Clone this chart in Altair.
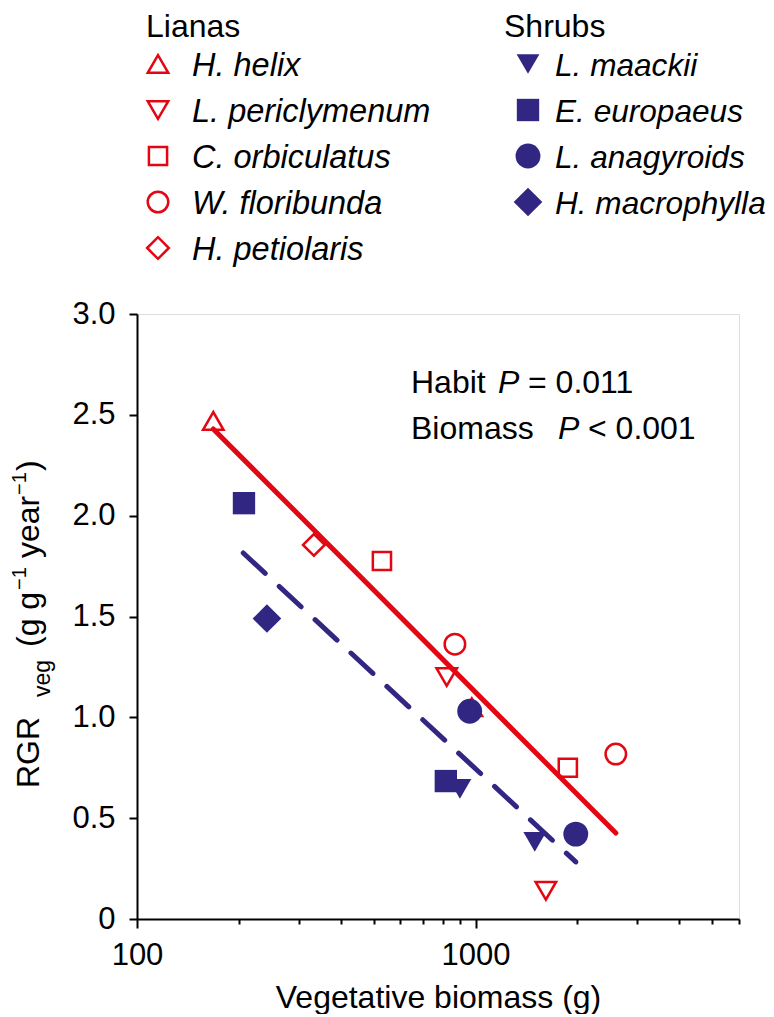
import altair as alt
import pandas as pd

# ---------------- data ----------------
liana_species = ["H. helix", "L. periclymenum", "C. orbiculatus", "W. floribunda", "H. petiolaris"]
shrub_species = ["L. maackii", "E. europaeus", "L. anagyroids", "H. macrophylla"]

liana_pt_species = ["H. helix", "H. helix", "L. periclymenum", "L. periclymenum",
                    "C. orbiculatus", "C. orbiculatus", "W. floribunda", "W. floribunda",
                    "H. petiolaris"]
liana_biomass = [168, 975, 822, 1613, 529, 1873, 869, 2596, 333]
liana_rgr = [2.47, 1.05, 1.20, 0.14, 1.775, 0.75, 1.363, 0.818, 1.855]

shrub_pt_species = ["L. maackii", "L. maackii", "E. europaeus", "E. europaeus",
                    "L. anagyroids", "L. anagyroids", "H. macrophylla"]
shrub_biomass = [899, 1496, 207, 817, 961, 1977, 242]
shrub_rgr = [0.645, 0.382, 2.062, 0.684, 1.03, 0.421, 1.49]

liana_fit_biomass = [168, 2596]
liana_fit_rgr = [2.43, 0.426]
shrub_fit_biomass = [206, 1977]
shrub_fit_rgr = [1.815, 0.283]

x_tick_values = [100, 200, 300, 400, 500, 600, 700, 800, 900,
                 1000, 2000, 3000, 4000, 5000, 6000]
y_tick_values = [0, 0.5, 1.0, 1.5, 2.0, 2.5, 3.0]

# ---------------- styling ----------------
RED = "#e30613"
BLUE = "#312783"
FONT = "Liberation Sans"

shape_of = {"H. helix": "triangle-up", "L. periclymenum": "triangle-down",
            "C. orbiculatus": "square", "W. floribunda": "circle", "H. petiolaris": "diamond",
            "L. maackii": "triangle-down", "E. europaeus": "square",
            "L. anagyroids": "circle", "H. macrophylla": "diamond"}
size_of = {"H. helix": 420, "L. periclymenum": 420, "C. orbiculatus": 330,
           "W. floribunda": 420, "H. petiolaris": 470,
           "L. maackii": 520, "E. europaeus": 500, "L. anagyroids": 620, "H. macrophylla": 820}

lianas = pd.DataFrame({"species": liana_pt_species, "biomass": liana_biomass, "rgr": liana_rgr})
shrubs = pd.DataFrame({"species": shrub_pt_species, "biomass": shrub_biomass, "rgr": shrub_rgr})
fit_l = pd.DataFrame({"biomass": liana_fit_biomass, "rgr": liana_fit_rgr})
fit_s = pd.DataFrame({"biomass": shrub_fit_biomass, "rgr": shrub_fit_rgr})

xscale = alt.Scale(type="log", domain=[100, 6000], nice=False)
yscale = alt.Scale(domain=[0, 3], nice=False, zero=True)

x_enc = alt.X(
    "biomass:Q", scale=xscale,
    axis=alt.Axis(
        values=x_tick_values,
        labelExpr="(datum.value == 100 || datum.value == 1000) ? format(datum.value, 'd') : ''",
        labelOverlap=False, labelFlush=False,
        title="Vegetative biomass (g)",
        grid=False, domainColor="black", domainWidth=2,
        tickColor="black", tickWidth=2,
        tickSize={"condition": {"test": "datum.value == 100 || datum.value == 1000", "value": 9}, "value": 5},
        labelFont=FONT, labelFontSize=31, labelColor="black", labelPadding=12,
        titleFont=FONT, titleFontSize=32, titleFontWeight="normal", titleColor="black",
        titlePadding=12,
    ),
)
y_enc = alt.Y(
    "rgr:Q", scale=yscale,
    axis=alt.Axis(
        values=y_tick_values,
        labelExpr="datum.value == 0 ? '0' : format(datum.value, '.1f')",
        title=None, grid=False, domainColor="black", domainWidth=2,
        tickColor="black", tickWidth=2, tickSize=8,
        labelFont=FONT, labelFontSize=31, labelColor="black", labelPadding=14,
        labelOverlap=False, labelFlush=False,
    ),
)

layers = []
# open liana symbols (drawn first)
for sp in liana_species:
    layers.append(
        alt.Chart(lianas).transform_filter(alt.datum.species == sp)
        .mark_point(shape=shape_of[sp], size=size_of[sp], filled=False, color=RED,
                    strokeWidth=2.5, opacity=1)
        .encode(x=x_enc, y=y_enc)
    )
# filled shrub symbols
for sp in shrub_species:
    layers.append(
        alt.Chart(shrubs).transform_filter(alt.datum.species == sp)
        .mark_point(shape=shape_of[sp], size=size_of[sp], filled=True, color=BLUE, opacity=1)
        .encode(x=x_enc, y=y_enc)
    )
# regression lines
layers.append(alt.Chart(fit_l).mark_line(color=RED, strokeWidth=5, strokeCap="round")
              .encode(x=x_enc, y=y_enc))
layers.append(alt.Chart(fit_s).mark_line(color=BLUE, strokeWidth=5, strokeCap="round",
                                         strokeDash=[30, 19]).encode(x=x_enc, y=y_enc))

one = alt.Data(values=[{"a": 1}])


def txt(s, x, y, size=33, italic=False, angle=0, baseline="alphabetic"):
    return alt.Chart(one).mark_text(
        text=s, font=FONT, fontSize=size, fontStyle="italic" if italic else "normal",
        align="left", baseline=baseline, angle=angle, color="black",
    ).encode(x=alt.value(x), y=alt.value(y))


def sym(shape, size, x, y, filled, color):
    kw = dict(shape=shape, size=size, filled=filled, color=color, opacity=1)
    if not filled:
        kw["strokeWidth"] = 2.5
    return alt.Chart(one).mark_point(**kw).encode(x=alt.value(x), y=alt.value(y))


# plot origin is at page (137, 314); all positions below are relative to it
sym_rows = [-250, -204, -158, -112, -66]
txt_rows = [-238.5, -192.5, -146.5, -100.5, -54.5]
layers.append(txt("Lianas", 9, -277, size=32))
for i, sp in enumerate(liana_species):
    layers.append(sym(shape_of[sp], size_of[sp], 21, sym_rows[i], False, RED))
    layers.append(txt(sp, 55, txt_rows[i], size=32.5, italic=True))
layers.append(txt("Shrubs", 367, -277, size=32))
for i, sp in enumerate(shrub_species):
    layers.append(sym(shape_of[sp], size_of[sp], 391, sym_rows[i], True, BLUE))
    layers.append(txt(sp, 418, txt_rows[i], size=31.6, italic=True))

# statistics annotation
layers += [
    txt("Habit", 274, 79, size=32),
    txt("P", 361, 79, size=32, italic=True),
    txt("= 0.011", 391, 79, size=32),
    txt("Biomass", 274, 125, size=32),
    txt("P", 421, 125, size=32, italic=True),
    txt("< 0.001", 451, 125, size=32),
]

# rotated y-axis title with subscript / superscripts (start = lower end, page y)
bx, sbx, spx = -98, -87, -111
title_pieces = [("RGR", 32, bx, 788), ("veg", 23, sbx, 697), ("(g g", 32, bx, 647),
                ("\u22121", 20, spx, 590), ("year", 32, bx, 558), ("\u22121", 20, spx, 495),
                (")", 32, bx, 471)]
for s, fs, xb, ystart in title_pieces:
    layers.append(txt(s, xb, ystart - 314, size=fs, angle=270))

chart = alt.layer(*layers).properties(
    width=602, height=605,
    padding={"left": 129, "top": 306, "right": 27, "bottom": 95},
    autosize=alt.AutoSizeParams(type="none"),
).configure_view(stroke=None).configure(background="white")

chart.save("out.html", embed_options={"renderer": "svg", "actions": False})
